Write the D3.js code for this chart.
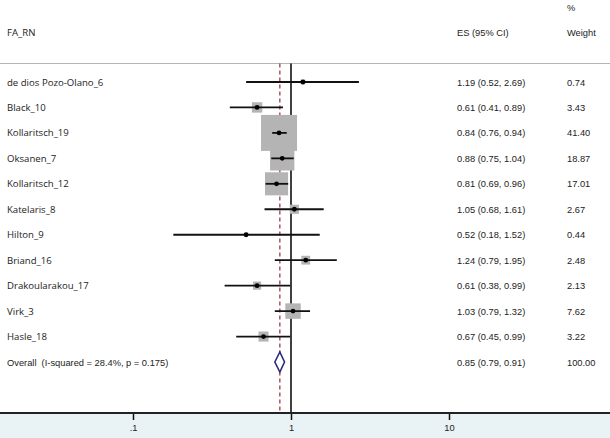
<!DOCTYPE html>
<html>
<head>
<meta charset="utf-8">
<script src="https://cdn.jsdelivr.net/npm/d3@7/dist/d3.min.js"></script>
<style>
  body { margin: 0; background: #fff; }
  svg { display: block; }
  .txt { font-family: "Liberation Sans", Arial, sans-serif; font-size: 9.3px; fill: #222; }
  .lab { font-family: "Open Sans", sans-serif; font-size: 9.6px; fill: #222; }
</style>
</head>
<body>
<div id="chart"></div>
<script>
// studies, estimates and confidence limits, weights (%)
var studies = ["de dios Pozo-Olano_6", "Black_10", "Kollaritsch_19", "Oksanen_7", "Kollaritsch_12",
    "Katelaris_8", "Hilton_9", "Briand_16", "Drakoularakou_17", "Virk_3", "Hasle_18"];
var es = [1.19, 0.61, 0.84, 0.88, 0.81, 1.05, 0.52, 1.24, 0.61, 1.03, 0.67];
var lower = [0.52, 0.41, 0.76, 0.75, 0.69, 0.68, 0.18, 0.79, 0.38, 0.79, 0.45];
var upper = [2.69, 0.89, 0.94, 1.04, 0.96, 1.61, 1.52, 1.95, 0.99, 1.32, 0.99];
var weights = ["0.74", "3.43", "41.40", "18.87", "17.01", "2.67", "0.44", "2.48", "2.13", "7.62", "3.22"];

var overallLabel = "Overall  (I-squared = 28.4%, p = 0.175)";
var overall = {es: 0.85, lo: 0.79, hi: 0.91, weight: "100.00"};
var tickValues = [0.1, 1, 10];
var tickLabels = [".1", "1", "10"];

var width = 610, height = 438;
var headY = 63.5, axisY = 413;

var svg = d3.select("#chart").append("svg")
    .attr("width", width)
    .attr("height", height);

var x = d3.scaleLog()
    .domain([0.1, 10])
    .range([133, 449]);

var rows = studies.concat([overallLabel]);
var y = d3.scalePoint()
    .domain(rows)
    .range([82, 362]);

var box = d3.scaleSqrt()
    .domain([0, 41.4])
    .range([0, 36]);

function fmt(v) { return v.toFixed(2); }

// background below axis
svg.append("rect")
    .attr("x", 0).attr("y", axisY)
    .attr("width", width).attr("height", height - axisY)
    .style("fill", "#e9f2f4");

// header
svg.append("text").attr("class", "lab").attr("x", 7).attr("y", 36).text("FA_RN");
svg.append("text").attr("class", "txt").attr("x", 457).attr("y", 36).text("ES (95% CI)");
svg.append("text").attr("class", "txt").attr("x", 567).attr("y", 11).text("%");
svg.append("text").attr("class", "txt").attr("x", 567).attr("y", 36).text("Weight");

svg.append("line")
    .attr("x1", 0).attr("x2", width)
    .attr("y1", headY).attr("y2", headY)
    .style("stroke", "#b5b5b5")
    .style("stroke-width", 1);

// null line
svg.append("line")
    .attr("x1", x(1)).attr("x2", x(1))
    .attr("y1", headY).attr("y2", axisY)
    .style("stroke", "#000")
    .style("stroke-width", 1.5);

// overall effect line
svg.append("line")
    .attr("x1", x(overall.es)).attr("x2", x(overall.es))
    .attr("y1", headY).attr("y2", axisY)
    .style("stroke", "#9b3b4b")
    .style("stroke-width", 1.3)
    .style("stroke-dasharray", "4,3");

var data = studies.map(function(s, i) {
    return {name: s, es: es[i], lo: lower[i], hi: upper[i], w: weights[i]};
});

var g = svg.selectAll("g.study")
    .data(data)
    .enter()
    .append("g")
    .attr("class", "study");

g.append("rect")
    .attr("x", function(d) { return x(d.es) - box(+d.w) / 2; })
    .attr("y", function(d) { return y(d.name) - box(+d.w) / 2; })
    .attr("width", function(d) { return box(+d.w); })
    .attr("height", function(d) { return box(+d.w); })
    .style("fill", "#b4b4b4");

g.append("line")
    .attr("x1", function(d) { return x(d.lo); })
    .attr("x2", function(d) { return x(d.hi); })
    .attr("y1", function(d) { return y(d.name); })
    .attr("y2", function(d) { return y(d.name); })
    .style("stroke", "#111")
    .style("stroke-width", 1.8);

g.append("circle")
    .attr("cx", function(d) { return x(d.es); })
    .attr("cy", function(d) { return y(d.name); })
    .attr("r", 2.4)
    .style("fill", "#000");

g.append("text")
    .attr("class", "lab")
    .attr("x", 7)
    .attr("y", function(d) { return y(d.name) + 3.5; })
    .text(function(d) { return d.name; });

g.append("text")
    .attr("class", "txt")
    .attr("x", 457)
    .attr("y", function(d) { return y(d.name) + 3.5; })
    .text(function(d) { return fmt(d.es) + " (" + fmt(d.lo) + ", " + fmt(d.hi) + ")"; });

g.append("text")
    .attr("class", "txt")
    .attr("x", 567)
    .attr("y", function(d) { return y(d.name) + 3.5; })
    .text(function(d) { return d.w; });

// overall diamond
var oy = y(overallLabel);
svg.append("path")
    .attr("d", "M" + x(overall.lo) + "," + oy +
        "L" + x(overall.es) + "," + (oy - 10) +
        "L" + x(overall.hi) + "," + oy +
        "L" + x(overall.es) + "," + (oy + 10) + "Z")
    .style("fill", "#fff")
    .style("stroke", "#2b2a78")
    .style("stroke-width", 1.6);

svg.append("text").attr("class", "txt").attr("x", 7).attr("y", oy + 3.5)
    .style("white-space", "pre").text(overallLabel);
svg.append("text").attr("class", "txt").attr("x", 457).attr("y", oy + 3.5)
    .text(fmt(overall.es) + " (" + fmt(overall.lo) + ", " + fmt(overall.hi) + ")");
svg.append("text").attr("class", "txt").attr("x", 567).attr("y", oy + 3.5).text(overall.weight);

// x axis
var axis = d3.axisBottom(x)
    .tickValues(tickValues)
    .tickFormat(function(d, i) { return tickLabels[i]; })
    .tickSize(7)
    .tickPadding(4);

var ag = svg.append("g")
    .attr("transform", "translate(0," + axisY + ")")
    .call(axis);
ag.select(".domain").remove();
ag.selectAll(".tick line").style("stroke", "#111").style("stroke-width", 1.5);
ag.selectAll(".tick text")
    .style("font-family", "Liberation Sans, Arial, sans-serif")
    .style("font-size", "9.3px")
    .style("fill", "#222");

svg.append("line")
    .attr("x1", 0).attr("x2", width)
    .attr("y1", axisY).attr("y2", axisY)
    .style("stroke", "#222")
    .style("stroke-width", 2);
</script>
</body>
</html>
